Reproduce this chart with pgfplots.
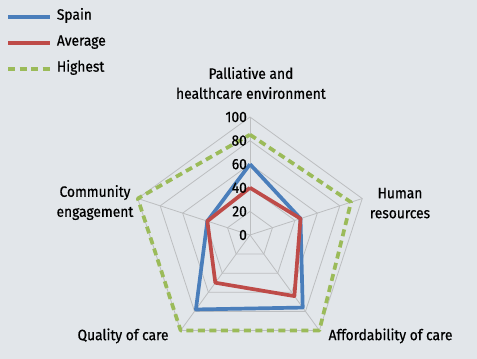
\documentclass[border=0pt]{standalone}
\usepackage{fontspec}
\setmainfont{Fira Sans}[FakeStretch=0.92, FakeBold=0.6]
\usepackage{pgfplots}
\pgfplotsset{compat=1.18}
\definecolor{bg}{RGB}{226,230,234}
\definecolor{spain}{RGB}{74,126,187}
\definecolor{avg}{RGB}{190,75,72}
\definecolor{high}{RGB}{155,187,89}
\definecolor{gridc}{RGB}{188,190,192}
\newcommand{\lf}{\fontsize{15bp}{20bp}\selectfont}
\begin{document}
\begin{tikzpicture}
\fill[bg] (0,0) rectangle (477bp,359bp);
\begin{axis}[
  at={(0,0)}, anchor=south west, scale only axis,
  width=477bp, height=359bp,
  xmin=-211.86, xmax=192.37, ymin=-105.08, ymax=199.15,
  hide axis, clip=false,
  legend style={at={(0,1)}, anchor=north west, draw=none, fill=none,
    font=\lf, inner xsep=0bp, inner ysep=0bp,
    nodes={inner sep=1bp, text height=10bp, text depth=4bp},
    row sep=10bp, column sep=4bp, cells={anchor=west}, xshift=6bp, yshift=-8.5bp},
  legend image code/.code={\draw[#1, line cap=butt] (0bp,0bp) -- (42bp,0bp);},
]
% grid pentagons
\pgfplotsinvokeforeach{20,40,60,80,100}{
  \addplot[gridc, line width=0.8bp, data cs=polar, forget plot] coordinates {(90,#1)(18,#1)(-54,#1)(-126,#1)(162,#1)(90,#1)};
}
% spokes
\pgfplotsinvokeforeach{90,18,-54,-126,162}{
  \addplot[gridc, line width=0.8bp, data cs=polar, forget plot] coordinates {(#1,0)(#1,100)};
}
\addplot[spain, line width=3.7bp, line join=round, data cs=polar] coordinates {(90,60)(18,45)(-54,76)(-126,78)(162,38)(90,60)};
\addplot[avg, line width=3.7bp, line join=round, data cs=polar] coordinates {(90,40)(18,45)(-54,64)(-126,50)(162,38)(90,40)};
\addplot[high, line width=3.7bp, line join=round, dash pattern=on 7bp off 4.5bp, data cs=polar] coordinates {(90,85)(18,90)(-54,100)(-126,100)(162,100)(90,85)};
\legend{Spain,Average,Highest}
% radial tick labels
\pgfplotsinvokeforeach{0,20,40,60,80,100}{
  \node[anchor=east, inner sep=0pt, font=\lf] at (axis cs:-2.5,#1) {#1};
}
\node[align=center, font=\lf] at (axis cs:0.8,128.8) {Palliative and\\healthcare environment};
\node[align=center, font=\lf] at (axis cs:127.1,27.0) {Human\\resources};
\node[font=\lf] at (axis cs:119.1,-85.5) {Affordability of care};
\node[font=\lf] at (axis cs:-107.6,-85.5) {Quality of care};
\node[align=center, font=\lf] at (axis cs:-131.4,27.5) {Community\\engagement};
\end{axis}
\end{tikzpicture}
\end{document}
